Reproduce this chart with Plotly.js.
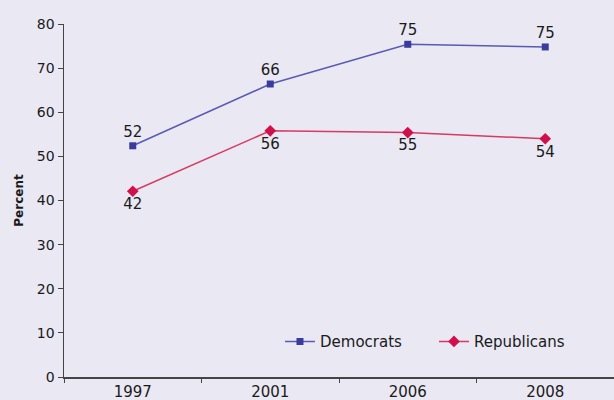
<!DOCTYPE html>
<html>
<head>
<meta charset="utf-8">
<script src="https://cdn.plot.ly/plotly-3.0.1.min.js"></script>
<style>html,body{margin:0;padding:0;background:#e9e8f3;}#chart{width:614px;height:400px;}</style>
</head>
<body>
<div id="chart"></div>
<script>
var years = ['1997', '2001', '2006', '2008'];
var democrats = [52.4, 66.4, 75.4, 74.8];
var republicans = [42.1, 55.8, 55.4, 54.0];
var demLabels = ['52', '66', '75', '75'];
var repLabels = ['42', '56', '55', '54'];
var yTicks = [0, 10, 20, 30, 40, 50, 60, 70, 80];

var font = 'DejaVu Sans, Arial, sans-serif';

var traces = [
  {
    x: years, y: democrats, name: 'Democrats', type: 'scatter', mode: 'lines+markers+text',
    text: demLabels, textposition: 'top center', cliponaxis: false, legend: 'legend',
    textfont: {family: font, size: 15, color: '#1a1a1a'},
    line: {color: '#5a5ab4', width: 1.5},
    marker: {symbol: 'square', size: 7, color: '#3b3b9e'}
  },
  {
    x: years, y: republicans, name: 'Republicans', type: 'scatter', mode: 'lines+markers+text',
    text: repLabels, textposition: 'bottom center', cliponaxis: false, legend: 'legend2',
    textfont: {family: font, size: 15, color: '#1a1a1a'},
    line: {color: '#d83a62', width: 1.5},
    marker: {symbol: 'diamond', size: 9, color: '#d0104a'}
  }
];

var legendBase = {
  orientation: 'h', y: 0.1, xanchor: 'left', yanchor: 'middle',
  bgcolor: 'rgba(0,0,0,0)', font: {family: font, size: 15, color: '#1a1a1a'}
};

var layout = {
  width: 614, height: 400,
  margin: {l: 64, r: 0, t: 24, b: 23},
  paper_bgcolor: '#e9e8f3',
  plot_bgcolor: '#e9e8f3',
  font: {family: font, color: '#1a1a1a'},
  showlegend: true,
  legend: Object.assign({}, legendBase, {x: 0.3927}),
  legend2: Object.assign({}, legendBase, {x: 0.6727}),
  xaxis: {
    type: 'category', range: [-0.5, 3.5], showgrid: false, zeroline: false,
    showline: true, linecolor: '#444', linewidth: 1.5,
    ticks: 'outside', tickson: 'boundaries', ticklen: 4, tickcolor: '#444',
    tickfont: {family: font, size: 15, color: '#1a1a1a'},
    fixedrange: true
  },
  yaxis: {
    range: [0, 80], tickvals: yTicks, showgrid: false, zeroline: false,
    showline: true, linecolor: '#444', linewidth: 1.5,
    ticks: 'outside', ticklen: 5, tickcolor: '#444',
    tickfont: {family: font, size: 14, color: '#1a1a1a'},
    title: {text: '<b>Percent</b>', font: {family: font, size: 12, color: '#1a1a1a'}, standoff: 10},
    fixedrange: true
  }
};

Plotly.newPlot('chart', traces, layout, {displayModeBar: false, staticPlot: true});
</script>
</body>
</html>
